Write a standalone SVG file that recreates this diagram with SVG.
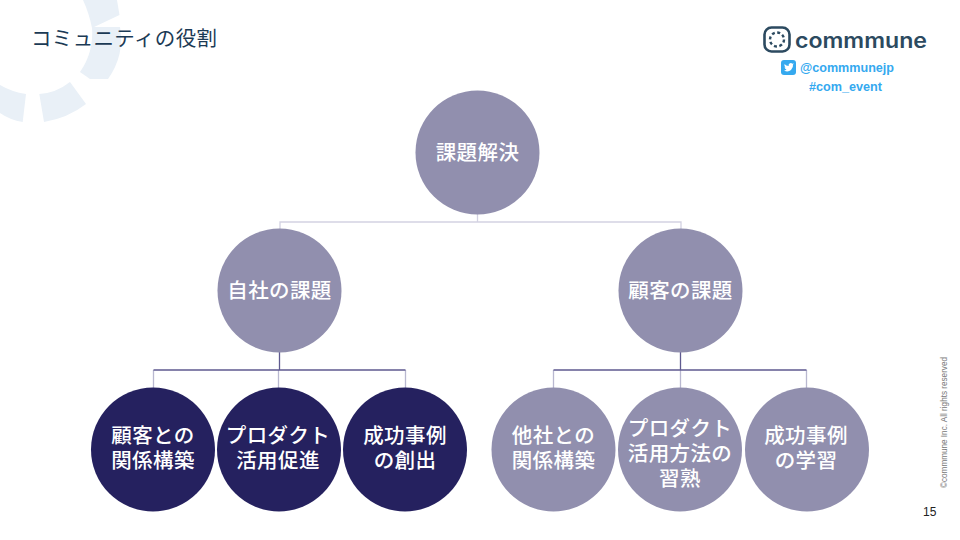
<svg xmlns="http://www.w3.org/2000/svg" width="960" height="540" viewBox="0 0 960 540">
<style>
.jp{font-family:"Noto Sans CJK JP","Noto Sans",sans-serif}
.n{font-size:20.5px;font-weight:500;fill:#fff;text-anchor:middle;letter-spacing:.4px}
.m{fill:#918fae}
.d{fill:#25215f}
.c{fill:none;stroke-width:1.3}
.l{stroke:#d3d2e2}
.g{stroke:#b9b8d0}
.k{stroke:#5f5a90}
.ring{fill:#e9f0f7}
.tw{font-family:"Liberation Sans",Arial,sans-serif;font-weight:700;fill:#35a9ef;font-size:12px}
</style>
<rect width="960" height="540" fill="#fff"/>
<g id="bg">
<path class="ring" d="M83,0H117L119.500,15L92,28Q89,13 83,0Z"/>
<path class="ring" d="M120,27Q125,55 108,79H90L80,72Q94,52 92,27Z"/>
<path class="ring" d="M70,82L86,104Q68,118 44,122L39.300,94Q56,93 70,82Z"/>
<path class="ring" d="M26,94L22.700,122Q10,120 0,113V85Q12,92 26,94Z"/>
</g>
<text id="title" class="jp" x="31" y="46" font-size="20.500" fill="#1b3a55" textLength="186">コミュニティの役割</text>
<g id="logo">
<rect x="764.500" y="27.500" width="25" height="24" rx="7" fill="none" stroke="#2c4a60" stroke-width="2.600"/>
<circle cx="777" cy="39.500" r="7" fill="none" stroke="#2c4a60" stroke-width="2.400" stroke-dasharray="3 2.500"/>
<text x="795" y="47.500" font-family="Inter,'Liberation Sans',sans-serif" font-weight="600" font-size="20.500" fill="#2c4a60" textLength="132" lengthAdjust="spacingAndGlyphs">commmune</text>
</g>
<g id="twitter">
<rect x="781" y="60" width="15" height="15" rx="3" fill="#35a9ef"/>
<path d="M784,70.500Q788,72.500 791,70Q793.500,67.500 793,64.500L794,63.500L792.500,63.800Q791,62.500 789.500,63.500Q788,64.500 788.800,66Q786,66 784.500,64Q784,66 785.500,67.500L784.500,67.300Q785,69 786.500,69.500Q785.500,70.500 784,70.500Z" fill="#fff"/>
<text class="tw" x="800" y="72" textLength="94" lengthAdjust="spacingAndGlyphs">@commmunejp</text>
<text class="tw" x="809" y="91" textLength="73" lengthAdjust="spacingAndGlyphs">#com_event</text>
</g>
<g id="connectors">
<path class="c l" d="M477.500,214V222M280,230V222H681V230"/>
<path class="c g" d="M153.500,370V388M405.500,370V388M278.500,370V388M553.500,370V388M806.500,370V388M680.500,370V388"/>
<path class="c k" d="M279.500,352V370M153.500,370H405.500"/>
<path class="c k" d="M680.500,352V370M553.500,370H806.500"/>
</g>
<g id="n-top"><circle class="m" cx="477.500" cy="152.500" r="62"/><text class="jp n" x="477.500" y="159.500">課題解決</text></g>
<g id="n-own"><circle class="m" cx="279.500" cy="290.500" r="62"/><text class="jp n" x="279.500" y="297.500">自社の課題</text></g>
<g id="n-cust"><circle class="m" cx="680.500" cy="290.500" r="62"/><text class="jp n" x="680.500" y="297.500">顧客の課題</text></g>
<g id="n-a"><circle class="d" cx="153" cy="449.500" r="62"/><text class="jp n" x="153" y="443">顧客との</text><text class="jp n" x="153" y="468">関係構築</text></g>
<g id="n-b"><circle class="d" cx="279" cy="449.500" r="62"/><text class="jp n" x="278" y="443">プロダクト</text><text class="jp n" x="278" y="468">活用促進</text></g>
<g id="n-c"><circle class="d" cx="405" cy="449.500" r="62"/><text class="jp n" x="405" y="443">成功事例</text><text class="jp n" x="405" y="468">の創出</text></g>
<g id="n-d"><circle class="m" cx="553.500" cy="449.500" r="62"/><text class="jp n" x="553.500" y="443">他社との</text><text class="jp n" x="553.500" y="468">関係構築</text></g>
<g id="n-e"><circle class="m" cx="680" cy="449.500" r="62"/><text class="jp n" x="680" y="436">プロダクト</text><text class="jp n" x="680" y="461">活用方法の</text><text class="jp n" x="680" y="486">習熟</text></g>
<g id="n-f"><circle class="m" cx="807" cy="449.500" r="62"/><text class="jp n" x="806" y="443">成功事例</text><text class="jp n" x="806" y="468">の学習</text></g>
<text id="copyright" transform="translate(947,488) rotate(-90)" font-family="'Liberation Sans',Arial,sans-serif" font-size="8.500" fill="#777" textLength="131" lengthAdjust="spacingAndGlyphs">©commmune Inc. All rights reserved</text>
<text id="page" x="923" y="516" font-family="'Liberation Sans',Arial,sans-serif" font-size="12" fill="#222">15</text>
</svg>
